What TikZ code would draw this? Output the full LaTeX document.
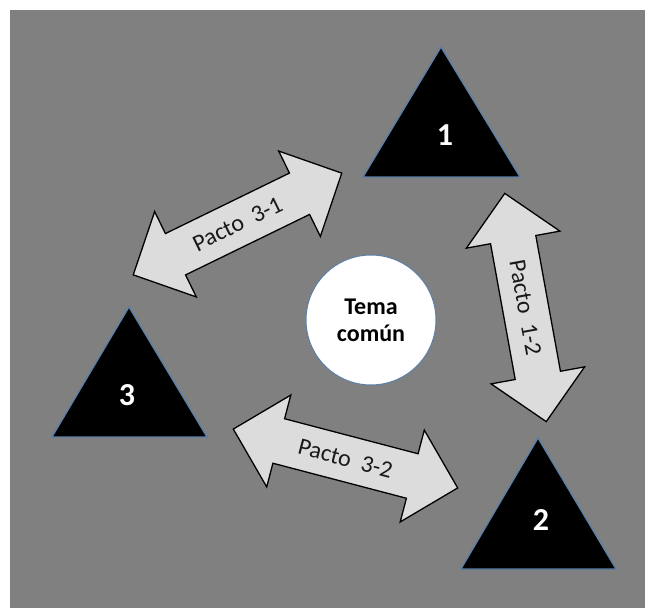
\documentclass[tikz,border=0pt]{standalone}
\usepackage{fontspec}
\setmainfont{Carlito}
\definecolor{bggray}{HTML}{808080}
\definecolor{arrowfill}{HTML}{DCDCDC}
\definecolor{edgeblue}{HTML}{5B7FA8}
\tikzset{
  tri/.style={fill=black, draw=edgeblue, line width=1.3pt, line join=miter},
  trilabel/.style={text=white, font=\fontsize{32}{34}\selectfont\bfseries, inner sep=0pt},
  blockarrow/.style={fill=arrowfill, draw=black, line width=1.3pt, line join=miter},
  arrowtext/.style={font=\fontsize{24}{26}\selectfont, text=black!90, inner sep=0pt, transform shape},
  hub/.style={circle, fill=white, draw=edgeblue, line width=1pt, minimum size=130pt, inner sep=0pt, align=center, font=\fontsize{24}{27}\selectfont\bfseries}
}
\newcommand{\dblarrowpath}{(-116,0) -- (-69,47.5) -- (-69,23) -- (69,23) -- (69,47.5) -- (116,0) -- (69,-47.5) -- (69,-23) -- (-69,-23) -- (-69,-47.5) -- cycle}
\begin{document}
\begin{tikzpicture}[x=1pt,y=1pt]
\useasboundingbox (0,0) rectangle (645,608);
\fill[white] (0,0) rectangle (645,608);
\fill[bggray] (10,0) rectangle (645,598);

% triangles
\draw[tri] (363,431) -- (441,561) -- (520,431) -- cycle;
\node[trilabel] (t1) at (445,473) {1};
\draw[tri] (461,39) -- (538,170) -- (616,39) -- cycle;
\node[trilabel] (t2) at (541,88) {2};
\draw[tri] (52,171) -- (129,301) -- (207,171) -- cycle;
\node[trilabel] (t3) at (127,213) {3};

% central circle
\node[hub] (tema) at (371,288) {Tema\\común};

% block arrows
\begin{scope}[shift={(237.5,384)}, rotate=26]
  \draw[blockarrow] \dblarrowpath;
  \node[arrowtext] (p31) at (0,0) {Pacto\ \ 3-1};
\end{scope}
\begin{scope}[shift={(525.5,300.5)}, rotate=-79.7]
  \draw[blockarrow] \dblarrowpath;
  \node[arrowtext] (p12) at (0,0) {Pacto\ \ 1-2};
\end{scope}
\begin{scope}[shift={(345.5,149.5)}, rotate=-14.7]
  \draw[blockarrow] \dblarrowpath;
  \node[arrowtext] (p32) at (0,0) {Pacto\ \ 3-2};
\end{scope}
\end{tikzpicture}
\end{document}
